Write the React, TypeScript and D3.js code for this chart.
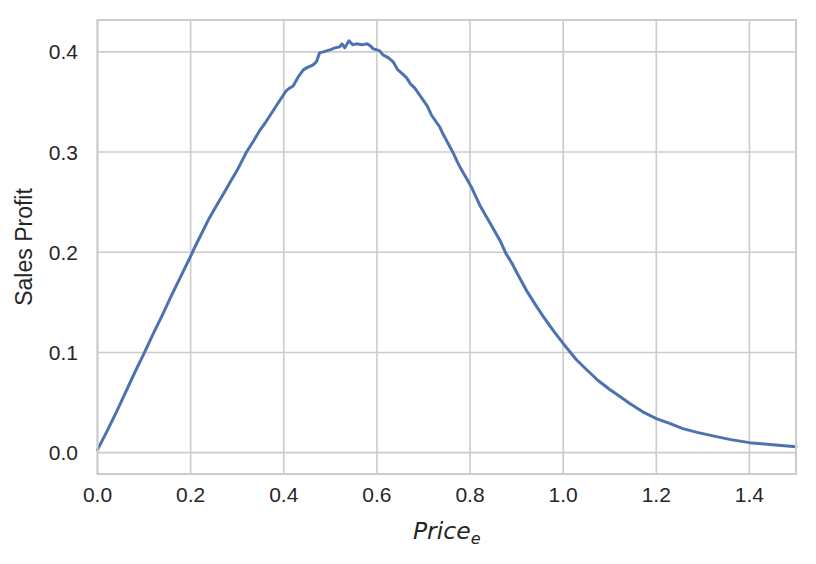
import React from "react";
import * as d3 from "d3";

const priceValues: number[] = [
  0.000, 0.020, 0.040, 0.060, 0.080, 0.100, 0.120, 0.140, 0.160, 0.180,
  0.200, 0.210, 0.227, 0.240, 0.256, 0.270, 0.285, 0.299, 0.310, 0.320,
  0.335, 0.349, 0.360, 0.374, 0.385, 0.395, 0.405, 0.413, 0.420, 0.431,
  0.442, 0.449, 0.463, 0.470, 0.477, 0.485, 0.499, 0.510, 0.520, 0.525,
  0.531, 0.540, 0.548, 0.556, 0.568, 0.579, 0.586, 0.592, 0.600, 0.606,
  0.613, 0.625, 0.635, 0.645, 0.655, 0.664, 0.672, 0.681, 0.690, 0.699,
  0.708, 0.717, 0.726, 0.735, 0.742, 0.749, 0.757, 0.764, 0.773, 0.782,
  0.792, 0.803, 0.812, 0.821, 0.832, 0.842, 0.853, 0.864, 0.878, 0.890,
  0.900, 0.921, 0.940, 0.957, 0.980, 1.000, 1.028, 1.050, 1.075, 1.100,
  1.128, 1.143, 1.170, 1.200, 1.230, 1.257, 1.290, 1.329, 1.360, 1.400,
  1.450, 1.500,
];

const profitValues: number[] = [
  0.003, 0.021, 0.040, 0.060, 0.080, 0.099, 0.119, 0.138, 0.158, 0.177,
  0.196, 0.206, 0.222, 0.234, 0.247, 0.258, 0.270, 0.281, 0.291, 0.300,
  0.311, 0.322, 0.329, 0.339, 0.347, 0.354, 0.361, 0.364, 0.366, 0.375,
  0.382, 0.384, 0.387, 0.390, 0.399, 0.400, 0.402, 0.404, 0.405, 0.408,
  0.404, 0.411, 0.407, 0.408, 0.407, 0.408, 0.406, 0.403, 0.402, 0.401,
  0.397, 0.394, 0.390, 0.382, 0.378, 0.374, 0.368, 0.364, 0.358, 0.352,
  0.346, 0.337, 0.331, 0.325, 0.318, 0.312, 0.305, 0.299, 0.290, 0.282,
  0.274, 0.265, 0.256, 0.247, 0.238, 0.230, 0.221, 0.212, 0.198, 0.189,
  0.180, 0.162, 0.148, 0.136, 0.121, 0.109, 0.093, 0.083, 0.072, 0.063,
  0.054, 0.049, 0.041, 0.034, 0.029, 0.024, 0.020, 0.016, 0.013, 0.010,
  0.008, 0.006,
];

const xTicks: number[] = [0.0, 0.2, 0.4, 0.6, 0.8, 1.0, 1.2, 1.4];
const yTicks: number[] = [0.0, 0.1, 0.2, 0.3, 0.4];

const W = 816;
const H = 564;
const left = 97.5;
const right = 796;
const top = 20;
const bottom = 474;

export default function App() {
  const x = d3.scaleLinear().domain([0, 1.5]).range([left, right]);
  const y = d3.scaleLinear().domain([-0.0213, 0.4318]).range([bottom, top]);
  const pts: [number, number][] = priceValues.map((p, i) => [p, profitValues[i]]);
  const line = d3
    .line<[number, number]>()
    .x((d) => x(d[0]))
    .y((d) => y(d[1]))
    .curve(d3.curveLinear);

  const grid = "#cccccc";
  const textColor = "#262626";
  const font = "'Liberation Sans', Arial, sans-serif";

  return (
    <svg
      width={W}
      height={H}
      style={{ position: "absolute", left: 0, top: 0, background: "#fff" }}
    >
      <rect x={0} y={0} width={W} height={H} fill="#fff" />
      {xTicks.map((t) => (
        <line key={"gx" + t} x1={x(t)} x2={x(t)} y1={top} y2={bottom} stroke={grid} strokeWidth={1.6} />
      ))}
      {yTicks.map((t) => (
        <line key={"gy" + t} x1={left} x2={right} y1={y(t)} y2={y(t)} stroke={grid} strokeWidth={1.6} />
      ))}
      <path d={line(pts) || ""} fill="none" stroke="#4c72b0" strokeWidth={3} strokeLinejoin="round" strokeLinecap="round" />
      <rect x={left} y={top} width={right - left} height={bottom - top} fill="none" stroke={grid} strokeWidth={2} />
      {xTicks.map((t) => (
        <text key={"tx" + t} x={x(t)} y={502} textAnchor="middle" fontFamily={font} fontSize={21} fill={textColor}>
          {t.toFixed(1)}
        </text>
      ))}
      {yTicks.map((t) => (
        <text key={"ty" + t} x={78} y={y(t) + 7.5} textAnchor="end" fontFamily={font} fontSize={21} fill={textColor}>
          {t.toFixed(1)}
        </text>
      ))}
      <text
        transform={`translate(32, ${(top + bottom) / 2}) rotate(-90)`}
        textAnchor="middle"
        fontFamily={font}
        fontSize={23}
        fill={textColor}
      >
        Sales Profit
      </text>
      <text x={(left + right) / 2} y={539} textAnchor="middle" fontFamily="'DejaVu Sans', sans-serif" fontStyle="italic" fontSize={23.5} fill={textColor}>
        Price
        <tspan fontSize={16} dy={5}>e</tspan>
      </text>
    </svg>
  );
}
